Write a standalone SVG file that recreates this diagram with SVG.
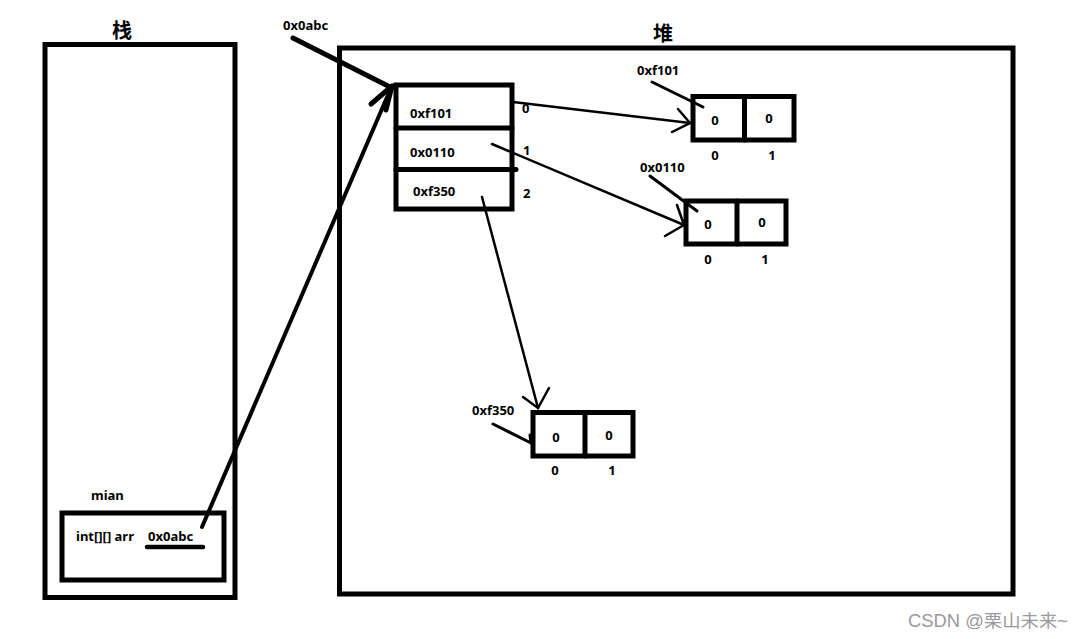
<svg xmlns="http://www.w3.org/2000/svg" width="1082" height="639" viewBox="0 0 1082 639">
<style>
.box{fill:none;stroke:#000;stroke-width:5}
.t{font-family:"Noto Sans","Liberation Sans",sans-serif;font-weight:bold;font-size:13px;fill:#000}
.title{font-family:"Noto Sans CJK SC","Noto Sans",sans-serif;font-weight:bold;font-size:20px;fill:#000}
.ln{stroke:#000;fill:none;stroke-linecap:round}
</style>
<rect width="1082" height="639" fill="#fff"/>

<g id="stack">
  <rect class="box" x="45" y="44.5" width="190" height="553"/>
  <text class="title" x="122" y="38" text-anchor="middle">栈</text>
</g>

<g id="heap">
  <rect class="box" x="339.5" y="48" width="673.5" height="546"/>
  <text class="title" x="663" y="41" text-anchor="middle">堆</text>
</g>

<g id="mian">
  <text class="t" x="91" y="500">mian</text>
  <rect class="box" x="62" y="513" width="162" height="67"/>
  <text class="t" x="76" y="541">int[][] arr</text>
  <text class="t" x="148" y="541">0x0abc</text>
  <line class="ln" x1="147" y1="547" x2="203" y2="547" stroke-width="4.5"/>
</g>

<g id="outer-array">
  <rect class="box" x="396" y="85" width="116" height="124"/>
  <line class="ln" x1="396" y1="128" x2="512" y2="128" stroke-width="5" stroke-linecap="butt"/>
  <line class="ln" x1="396" y1="169.5" x2="516" y2="169.5" stroke-width="5" stroke-linecap="butt"/>
  <text class="t" x="410" y="118">0xf101</text>
  <text class="t" x="410" y="157">0x0110</text>
  <text class="t" x="413" y="196">0xf350</text>
  <text class="t" x="522" y="113">0</text>
  <text class="t" x="523" y="155">1</text>
  <text class="t" x="523" y="198">2</text>
</g>

<g id="arr-f101">
  <text class="t" x="637" y="75">0xf101</text>
  <line class="ln" x1="652" y1="82" x2="703" y2="107" stroke-width="3"/>
  <rect class="box" x="693" y="96.5" width="101" height="43.5"/>
  <line class="ln" x1="744.5" y1="96.5" x2="744.5" y2="140" stroke-width="5" stroke-linecap="butt"/>
  <text class="t" x="715" y="125" text-anchor="middle">0</text>
  <text class="t" x="769" y="123" text-anchor="middle">0</text>
  <text class="t" x="715" y="160" text-anchor="middle">0</text>
  <text class="t" x="772" y="160" text-anchor="middle">1</text>
</g>

<g id="arr-0110">
  <text class="t" x="640" y="172">0x0110</text>
  <line class="ln" x1="650" y1="176" x2="697" y2="211" stroke-width="3"/>
  <rect class="box" x="686" y="201" width="100" height="43"/>
  <line class="ln" x1="737" y1="201" x2="737" y2="244" stroke-width="5" stroke-linecap="butt"/>
  <text class="t" x="708" y="229" text-anchor="middle">0</text>
  <text class="t" x="762" y="227" text-anchor="middle">0</text>
  <text class="t" x="708" y="264" text-anchor="middle">0</text>
  <text class="t" x="765" y="264" text-anchor="middle">1</text>
</g>

<g id="arr-f350">
  <text class="t" x="472" y="415">0xf350</text>
  <line class="ln" x1="493" y1="424" x2="531" y2="443" stroke-width="3"/>
  <line class="ln" x1="530" y1="435" x2="531" y2="443" stroke-width="3"/>
  <rect class="box" x="533" y="412.5" width="100" height="43.5"/>
  <line class="ln" x1="585" y1="412.5" x2="585" y2="456" stroke-width="5" stroke-linecap="butt"/>
  <text class="t" x="556" y="442" text-anchor="middle">0</text>
  <text class="t" x="609" y="440" text-anchor="middle">0</text>
  <text class="t" x="555" y="475" text-anchor="middle">0</text>
  <text class="t" x="612" y="475" text-anchor="middle">1</text>
</g>

<g id="connectors">
  <text class="t" x="283" y="30">0x0abc</text>
  <line class="ln" x1="293" y1="38" x2="392" y2="88" stroke-width="5"/>
  <line class="ln" x1="202" y1="527" x2="391" y2="88" stroke-width="4"/>
  <polyline class="ln" points="371,104 392,86 386,110" stroke-width="5" stroke-linejoin="round"/>

  <line class="ln" x1="513" y1="102" x2="690" y2="123" stroke-width="2.5"/>
  <polyline class="ln" points="678,109 690,123 672,132" stroke-width="2.5"/>

  <line class="ln" x1="492" y1="144" x2="684" y2="225" stroke-width="2.5"/>
  <polyline class="ln" points="677,205 684,225 665,236" stroke-width="2.5"/>

  <line class="ln" x1="482" y1="197" x2="538" y2="408" stroke-width="2.5"/>
  <polyline class="ln" points="523,397 538,408 549,388" stroke-width="2.5"/>
</g>

<text x="908" y="627" textLength="160" lengthAdjust="spacingAndGlyphs" font-family="'Liberation Sans','Noto Sans CJK SC',sans-serif" font-size="17.5" fill="#999">CSDN @栗山未来~</text>
</svg>
